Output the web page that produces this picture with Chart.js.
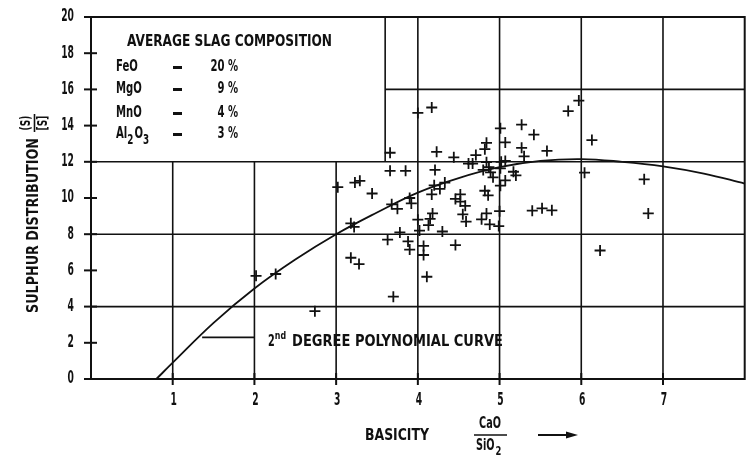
<!DOCTYPE html>
<html><head><meta charset="utf-8">
<script src="https://cdn.jsdelivr.net/npm/chart.js@4"></script>
<style>html,body{margin:0;padding:0;background:#fff}#wrap{width:752px;height:458px;position:relative}</style>
</head><body><div id="wrap"><canvas id="c" width="752" height="458"></canvas></div>
<script>
// ---- data ----
const basicity = [
  2.02, 2.26, 2.74,
  3.02, 3.23, 3.29, 3.44, 3.18, 3.22, 3.18, 3.28,
  3.66, 3.66, 3.85, 3.68, 3.75, 3.90, 3.92, 3.78, 3.63, 3.88, 3.90, 3.70,
  4.00, 4.17, 4.00, 4.02, 4.07, 4.07, 4.11,
  4.23, 4.21, 4.20, 4.27, 4.17, 4.33, 4.18, 4.15, 4.13, 4.30,
  4.44, 4.71, 4.46, 4.52, 4.52, 4.58, 4.55, 4.59, 4.46, 4.62, 4.67,
  4.84, 4.82, 5.01, 5.07, 5.27, 5.42,
  4.84, 4.87, 5.02, 5.07, 5.01, 4.89, 4.92, 4.80,
  5.17, 5.20, 5.27, 5.30, 5.58, 5.07, 5.01,
  4.82, 4.86, 4.84, 4.78, 4.88, 5.00, 4.99,
  5.40, 5.52, 5.64, 5.84, 5.97, 6.13, 6.04, 6.23, 6.77, 6.82
];
const sulphurDist = [
  5.7, 5.8, 3.75,
  10.6, 10.85, 10.95, 10.25, 8.6, 8.4, 6.7, 6.35,
  12.5, 11.5, 11.5, 9.65, 9.4, 10.0, 9.7, 8.1, 7.7, 7.6, 7.15, 4.55,
  14.7, 15.0, 8.8, 8.2, 7.35, 6.85, 5.65,
  12.55, 11.55, 10.7, 10.5, 10.2, 10.85, 9.15, 8.85, 8.5, 8.15,
  12.25, 12.37, 9.95, 10.2, 9.8, 9.57, 9.1, 8.7, 7.4, 11.9, 11.9,
  13.05, 12.7, 13.85, 13.07, 14.05, 13.5,
  11.98, 11.7, 12.0, 12.05, 11.64, 11.42, 11.14, 11.55,
  11.45, 11.25, 12.77, 12.3, 12.6, 10.97, 10.68,
  10.4, 10.15, 9.15, 8.82, 8.54, 9.27, 8.45,
  9.3, 9.43, 9.32, 14.8, 15.38, 13.2, 11.4, 7.1, 11.03, 9.15
];
const curveX = [0.8, 1.0, 1.5, 2.0, 2.5, 3.0, 3.5, 4.0, 4.5, 5.0, 5.5, 6.0, 6.5, 7.0, 7.5, 8.0];
const curveY = [0, 0.9, 3.1, 5.0, 6.6, 8.0, 9.2, 10.3, 11.1, 11.7, 12.05, 12.15, 12.0, 11.75, 11.35, 10.8];
const xTickValues = [1, 2, 3, 4, 5, 6, 7];
const yTickValues = [0, 2, 4, 6, 8, 10, 12, 14, 16, 18, 20];
const slagOxides = ['FeO', 'MgO', 'MnO', 'Al2O3'];
const slagPercent = ['20 %', '9 %', '4 %', '3 %'];
const legendTitle = 'AVERAGE SLAG COMPOSITION';
const curveLabel = 'DEGREE POLYNOMIAL CURVE';
const yTitle = 'SULPHUR DISTRIBUTION';
const xTitle = 'BASICITY';

// ---- drawing ----
const FONT = '"DejaVu Sans Condensed","DejaVu Sans",sans-serif';
const INK = '#111';

// grid segments in data units: vertical [x, y0, y1], horizontal [y, x0, x1]
const vGrid = [[1,0,12],[2,0,12],[3,0,12],[3.6,12,20],[4,0,20],[5,0,20],[6,0,20],[7,0,20]];
const hGrid = [[4,0,8],[8,0,8],[12,0,8],[16,3.6,8],[2.3,1.36,2]];

function font(sz, w) { return (w || 'bold') + ' ' + sz + 'px ' + FONT; }

function T(ctx, text, x, y, size, align, sx) {
  ctx.save();
  ctx.font = font(size);
  ctx.translate(x, y);
  ctx.scale(sx, 1);
  ctx.textAlign = align || 'left';
  ctx.fillText(text, 0, 0);
  const w = ctx.measureText(text).width * sx;
  ctx.restore();
  return w;
}
function drawFit(ctx, text, x, y, size, width) {
  ctx.save();
  ctx.font = font(size);
  const w = ctx.measureText(text).width;
  ctx.restore();
  return T(ctx, text, x, y, size, 'left', width / w);
}

const decor = {
  id: 'decor',
  beforeDatasetsDraw(chart) {
    const {ctx, scales: {x, y}} = chart;
    ctx.save();
    ctx.strokeStyle = INK;
    ctx.lineWidth = 1.6;
    vGrid.forEach(([xv, y0, y1]) => {
      ctx.beginPath();
      ctx.moveTo(x.getPixelForValue(xv), y.getPixelForValue(y0));
      ctx.lineTo(x.getPixelForValue(xv), y.getPixelForValue(y1));
      ctx.stroke();
    });
    hGrid.forEach(([yv, x0, x1]) => {
      ctx.beginPath();
      ctx.moveTo(x.getPixelForValue(x0), y.getPixelForValue(yv));
      ctx.lineTo(x.getPixelForValue(x1), y.getPixelForValue(yv));
      ctx.stroke();
    });
    ctx.lineWidth = 2;
    const L = x.getPixelForValue(0), R = x.getPixelForValue(8);
    const Tp = y.getPixelForValue(20), B = y.getPixelForValue(0);
    ctx.strokeRect(L, Tp, R - L, B - Tp);
    yTickValues.forEach(v => {
      const py = y.getPixelForValue(v);
      ctx.beginPath(); ctx.moveTo(L - 7, py); ctx.lineTo(L + 6, py); ctx.stroke();
    });
    xTickValues.forEach(v => {
      const px = x.getPixelForValue(v);
      ctx.beginPath(); ctx.moveTo(px, B - 6); ctx.lineTo(px, B + 6); ctx.stroke();
    });
    ctx.restore();
  },
  afterDraw(chart) {
    const {ctx, scales: {x, y}} = chart;
    ctx.save();
    ctx.fillStyle = INK;
    ctx.strokeStyle = INK;
    ctx.textBaseline = 'middle';
    const L = x.getPixelForValue(0), B = y.getPixelForValue(0);
    yTickValues.forEach(v => T(ctx, String(v), L - 17, y.getPixelForValue(v), 17, 'right', 0.6));
    xTickValues.forEach(v => T(ctx, String(v), x.getPixelForValue(v) + 1, B + 22, 17, 'center', 0.6));
    // legend block
    drawFit(ctx, legendTitle, 127, 42, 15, 205);
    const rowsY = [67, 89, 113, 134];
    slagOxides.forEach((ox, i) => {
      const yy = rowsY[i];
      if (ox === 'Al2O3') {
        let xx = 116;
        xx += T(ctx, 'Al', xx, yy, 16, 'left', 0.7);
        xx += T(ctx, '2', xx, yy + 6, 14, 'left', 0.7) + 1;
        xx += T(ctx, 'O', xx, yy, 16, 'left', 0.7);
        T(ctx, '3', xx, yy + 6, 14, 'left', 0.7);
      } else {
        T(ctx, ox, 116, yy, 16, 'left', 0.7);
      }
      ctx.fillRect(173, yy - 1, 9, 3);
      T(ctx, slagPercent[i], 238, yy, 16, 'right', 0.7);
    });
    // curve annotation
    let cx = 268;
    cx += T(ctx, '2', cx, 342, 15, 'left', 0.72);
    cx += T(ctx, 'nd', cx, 336, 11, 'left', 0.8) + 6;
    drawFit(ctx, curveLabel, cx, 342, 15, 503 - cx);
    // y title (rotated)
    ctx.save();
    ctx.translate(34, 313);
    ctx.rotate(-Math.PI / 2);
    drawFit(ctx, yTitle, 0, 0, 15, 175);
    T(ctx, '(S)', 190, -8, 14, 'center', 0.72);
    T(ctx, '[S]', 190, 9, 14, 'center', 0.72);
    ctx.lineWidth = 1.6;
    ctx.beginPath(); ctx.moveTo(181, 0.5); ctx.lineTo(199, 0.5); ctx.stroke();
    ctx.restore();
    // x title
    drawFit(ctx, xTitle, 365, 436, 15, 64);
    T(ctx, 'CaO', 490, 424, 15, 'center', 0.72);
    const sw = T(ctx, 'SiO', 476, 446, 15, 'left', 0.72);
    T(ctx, '2', 476 + sw + 1, 452, 13, 'left', 0.72);
    ctx.lineWidth = 1.6;
    ctx.beginPath(); ctx.moveTo(474, 435); ctx.lineTo(507, 435); ctx.stroke();
    ctx.lineWidth = 2;
    ctx.beginPath(); ctx.moveTo(538, 435); ctx.lineTo(568, 435); ctx.stroke();
    ctx.beginPath(); ctx.moveTo(578, 435); ctx.lineTo(566, 431.5); ctx.lineTo(566, 438.5); ctx.closePath(); ctx.fill();
    ctx.restore();
  }
};

const points = basicity.map((b, i) => ({x: b, y: sulphurDist[i]}));
const curve = curveX.map((v, i) => ({x: v, y: curveY[i]}));

new Chart(document.getElementById('c'), {
  type: 'scatter',
  data: {
    datasets: [
      {data: points, pointStyle: 'cross', radius: 5.5, borderWidth: 1.8, borderColor: INK, backgroundColor: INK},
      {data: curve, showLine: true, tension: 0.4, pointRadius: 0, borderColor: INK, borderWidth: 1.8, fill: false}
    ]
  },
  options: {
    responsive: false,
    animation: false,
    events: [],
    layout: {padding: {left: 31, right: 6, top: 17, bottom: 49}},
    plugins: {legend: {display: false}, tooltip: {enabled: false}},
    scales: {
      x: {
        type: 'linear', min: 0, max: 8,
        grid: {display: false, drawTicks: false}, border: {display: false},
        afterFit: s => { s.height = 30; },
        ticks: {display: false, stepSize: 1}
      },
      y: {
        type: 'linear', min: 0, max: 20,
        grid: {display: false, drawTicks: false}, border: {display: false},
        afterFit: s => { s.width = 60; },
        ticks: {display: false, stepSize: 2}
      }
    }
  },
  plugins: [decor]
});
</script>
</body></html>
